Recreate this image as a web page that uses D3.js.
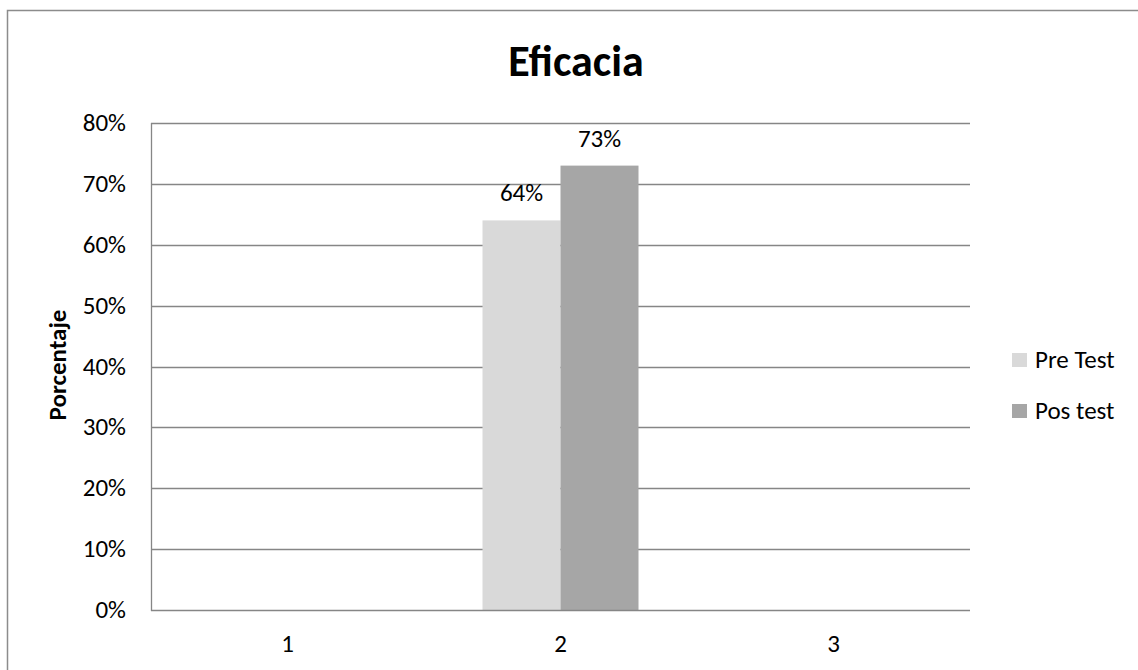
<!DOCTYPE html>
<html>
<head>
<meta charset="utf-8">
<script src="https://cdn.jsdelivr.net/npm/d3@7"></script>
<style>
  html, body { margin: 0; padding: 0; background: #fff; }
  svg { display: block; font-family: Carlito, Calibri, Lato, "Open Sans", sans-serif; }
</style>
</head>
<body>
<svg id="chart" width="1138" height="670"></svg>
<script>
const categories = ["1", "2", "3"];
const seriesNames = ["Pre Test", "Pos test"];
const preTest = [null, 0.64, null];
const posTest = [null, 0.73, null];
const yTicks = [0, 0.1, 0.2, 0.3, 0.4, 0.5, 0.6, 0.7, 0.8];
const title = "Eficacia";
const yTitle = "Porcentaje";
const colors = ["#d9d9d9", "#a6a6a6"];

(function () {
const svg = d3.select("#chart");
const pLeft = 151, pRight = 970, pTop = 123, pBottom = 610;
const fs = 25;

// outer border
svg.append("rect").attr("x", 7.5).attr("y", 10.5).attr("width", 1140).attr("height", 700)
  .attr("fill", "none").attr("stroke", "#8c8c8c").attr("stroke-width", 1.5);

const y = d3.scaleLinear().domain([0, 0.8]).range([pBottom, pTop]);
const x = d3.scaleBand().domain(categories).range([pLeft, pRight])
  .paddingInner(117 / 273).paddingOuter(117 / 273 / 2);
const xs = d3.scaleBand().domain(seriesNames).range([0, x.bandwidth()]);

// gridlines
svg.append("g").selectAll("line").data(yTicks.filter(d => d > 0)).join("line")
  .attr("x1", pLeft).attr("x2", pRight)
  .attr("y1", d => Math.round(y(d)) + 0.5).attr("y2", d => Math.round(y(d)) + 0.5)
  .attr("stroke", "#868686").attr("stroke-width", 1.3);

// y tick labels
svg.append("g").selectAll("text").data(yTicks).join("text")
  .attr("x", 126).attr("y", d => y(d) + 8)
  .attr("text-anchor", "end").attr("font-size", fs).attr("fill", "#000")
  .text(d3.format(".0%"));

// bars
const data = categories.map((c, i) => ({ c, vals: [preTest[i], posTest[i]] }));
const groups = svg.append("g").selectAll("g").data(data).join("g")
  .attr("transform", d => `translate(${x(d.c)},0)`);
const items = d => d.vals.map((v, j) => ({ v, s: seriesNames[j], j })).filter(e => e.v != null);
groups.selectAll("rect").data(items).join("rect")
  .attr("x", e => xs(e.s)).attr("width", xs.bandwidth())
  .attr("y", e => y(e.v)).attr("height", e => y(0) - y(e.v))
  .attr("fill", e => colors[e.j]);
groups.selectAll("text").data(items).join("text")
  .attr("x", e => xs(e.s) + xs.bandwidth() / 2).attr("y", e => y(e.v) - 19)
  .attr("text-anchor", "middle").attr("font-size", fs).attr("fill", "#000")
  .text(e => d3.format(".0%")(e.v));

// axis lines
svg.append("line").attr("x1", pLeft + 0.5).attr("x2", pLeft + 0.5).attr("y1", pTop).attr("y2", pBottom + 1)
  .attr("stroke", "#868686").attr("stroke-width", 1.3);
svg.append("line").attr("x1", pLeft).attr("x2", pRight).attr("y1", pBottom + 0.5).attr("y2", pBottom + 0.5)
  .attr("stroke", "#868686").attr("stroke-width", 1.3);

// category labels
svg.append("g").selectAll("text").data(categories).join("text")
  .attr("x", d => x(d) + x.bandwidth() / 2).attr("y", 652)
  .attr("text-anchor", "middle").attr("font-size", fs).attr("fill", "#000")
  .text(d => d);

// title
svg.append("text").attr("x", 576).attr("y", 76).attr("text-anchor", "middle")
  .attr("font-size", 44).attr("font-weight", "bold").attr("fill", "#000").text(title);

// y axis title
svg.append("text").attr("transform", "translate(66,365) rotate(-90)")
  .attr("text-anchor", "middle").attr("font-size", 25).attr("font-weight", "bold")
  .attr("fill", "#000").text(yTitle);

// legend
const lg = svg.append("g").selectAll("g").data(seriesNames).join("g")
  .attr("transform", (d, i) => `translate(1012,${353 + i * 51})`);
lg.append("rect").attr("width", 15).attr("height", 14).attr("fill", (d, i) => colors[i]);
lg.append("text").attr("x", 23).attr("y", 15).attr("font-size", fs).attr("fill", "#000").text(d => d);
})();
</script>
</body>
</html>
